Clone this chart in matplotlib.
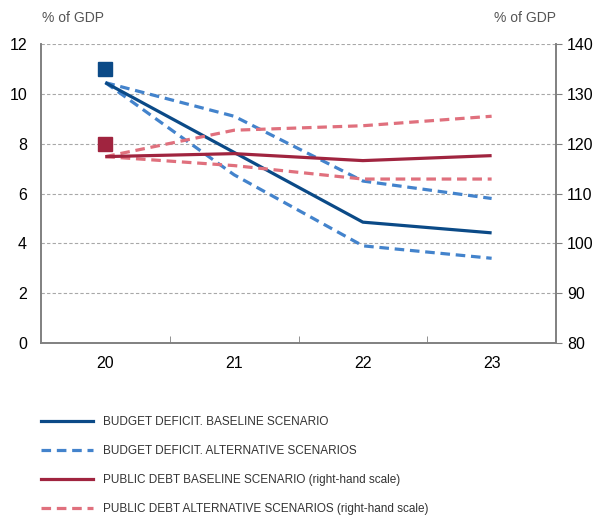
import matplotlib
matplotlib.use("Agg")
import matplotlib.pyplot as plt

years = ["20", "21", "22", "23"]
deficit_base = [10.45, 7.65, 4.85, 4.42]
deficit_alt_hi = [10.45, 9.1, 6.5, 5.8]
deficit_alt_lo = [10.45, 6.75, 3.9, 3.4]
debt_base = [117.4, 118.0, 116.6, 117.6]
debt_alt_hi = [117.4, 122.7, 123.6, 125.5]
debt_alt_lo = [117.4, 115.6, 112.9, 112.9]
deficit_marker = 11.0
debt_marker = 120.0

C_BLUE = "#0b4a87"
C_LBLUE = "#4383cc"
C_RED = "#a0243f"
C_PINK = "#e0707d"
GRAY = "#808080"

plt.rcParams["font.family"] = ["Liberation Sans", "DejaVu Sans"]

fig = plt.figure(figsize=(5.96, 5.16), dpi=100)
ax = fig.add_axes([41 / 596, 1 - 343 / 516, 515 / 596, 299 / 516])
ax2 = ax.twinx()

x = list(range(len(years)))
dash = (0, (3, 1.8))
lw = 2.3

ax.plot(x, deficit_alt_hi, color=C_LBLUE, lw=lw, ls=dash)
ax.plot(x, deficit_alt_lo, color=C_LBLUE, lw=lw, ls=dash)
ax.plot(x, deficit_base, color=C_BLUE, lw=lw, solid_capstyle="butt")
ax2.plot(x, debt_alt_hi, color=C_PINK, lw=lw, ls=dash)
ax2.plot(x, debt_alt_lo, color=C_PINK, lw=lw, ls=dash)
ax2.plot(x, debt_base, color=C_RED, lw=lw, solid_capstyle="butt")
ax.plot([0], [deficit_marker], "s", color=C_BLUE, ms=10)
ax2.plot([0], [debt_marker], "s", color=C_RED, ms=10)

ax.set_xlim(-0.5, 3.5)
ax.set_ylim(0, 12)
ax2.set_ylim(80, 140)
ax.set_yticks(range(0, 13, 2))
ax2.set_yticks(range(80, 141, 10))
ax.set_xticks(x)
ax.set_xticklabels(years)
ax.set_xticks([0.5, 1.5, 2.5], minor=True)

ax.grid(axis="y", color="#a8a8a8", ls=(0, (3, 2)), lw=0.8)
ax.set_axisbelow(True)

for a in (ax, ax2):
    a.spines["top"].set_visible(False)
    for s in ("left", "right", "bottom"):
        a.spines[s].set_color(GRAY)
        a.spines[s].set_linewidth(1.2)
ax.tick_params(axis="y", length=0, labelsize=11.5, pad=10)
ax2.tick_params(axis="y", length=4, color=GRAY, labelsize=11.5, pad=4)
ax.tick_params(axis="x", which="major", length=0, labelsize=11.5, pad=9)
ax.tick_params(axis="x", which="minor", direction="in", length=5, color=GRAY)

fig.text(42 / 596, 1 - 18 / 516, "% of GDP", fontsize=10, color="#555555",
         va="center", ha="left")
fig.text(556 / 596, 1 - 18 / 516, "% of GDP", fontsize=10, color="#555555",
         va="center", ha="right")

h1, = ax.plot([], [], color=C_BLUE, lw=lw)
h2, = ax.plot([], [], color=C_LBLUE, lw=lw, ls=dash)
h3, = ax.plot([], [], color=C_RED, lw=lw)
h4, = ax.plot([], [], color=C_PINK, lw=lw, ls=dash)
fig.legend([h1, h2, h3, h4],
           ["BUDGET DEFICIT. BASELINE SCENARIO",
            "BUDGET DEFICIT. ALTERNATIVE SCENARIOS",
            "PUBLIC DEBT BASELINE SCENARIO (right-hand scale)",
            "PUBLIC DEBT ALTERNATIVE SCENARIOS (right-hand scale)"],
           loc="upper left", bbox_to_anchor=(32 / 596, 1 - 407 / 516),
           frameon=False, handlelength=4.4, handletextpad=0.8,
           labelspacing=1.42, borderpad=0.3,
           prop={"size": 8.5},
           labelcolor="#333333")

fig.savefig("out.png", dpi=100)
